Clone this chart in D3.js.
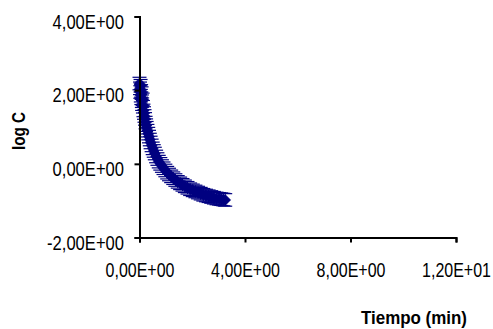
<!DOCTYPE html>
<html><head><meta charset="utf-8">
<script src="https://cdn.jsdelivr.net/npm/d3@7"></script>
<style>body{margin:0;background:#fff}svg{display:block}</style>
</head><body>
<svg id="c" width="493" height="329"></svg>
<script>
const tiempo = [0.00,0.02,0.03,0.04,0.05,0.06,0.07,0.08,0.09,0.10,0.12,0.13,0.15,0.17,0.19,0.21,0.23,0.25,0.27,0.30,0.33,0.36,0.39,0.42,0.46,0.50,0.54,0.58,0.63,0.68,0.73,0.79,0.85,0.91,0.98,1.05,1.12,1.20,1.28,1.36,1.45,1.54,1.63,1.72,1.82,1.92,2.02,2.12,2.22,2.32,2.42,2.52,2.62,2.72,2.82,2.92,3.02,3.10,3.18,3.25];
const logC = [2.18,2.05,1.95,2.12,1.85,1.98,1.78,1.92,1.70,1.62,1.75,1.55,1.45,1.38,1.30,1.22,1.12,1.05,0.98,0.90,0.82,0.74,0.66,0.58,0.50,0.42,0.35,0.28,0.20,0.13,0.06,0.00,-0.06,-0.12,-0.18,-0.24,-0.29,-0.34,-0.39,-0.44,-0.49,-0.53,-0.57,-0.61,-0.65,-0.69,-0.72,-0.75,-0.78,-0.81,-0.84,-0.86,-0.88,-0.90,-0.92,-0.94,-0.95,-0.96,-0.97,-0.98];
const errY = 0.17;
const xTicks = [0,4,8,12];
const yTicks = [-2,0,2,4];
const fmt = v => { if (v===0) return "0,00E+00"; const e=Math.floor(Math.log10(Math.abs(v))); const m=(v/Math.pow(10,e)).toFixed(2).replace(".",","); return m+"E"+(e<0?"-":"+")+String(Math.abs(e)).padStart(2,"0"); };

const svg = d3.select("#c");
const x = d3.scaleLinear().domain([0,12]).range([139.5,456]);
const y = d3.scaleLinear().domain([-2,4]).range([237.5,16.5]);
const font = "'Liberation Sans', Arial, sans-serif";
const col = "#000080";
const squeeze = (sel, k) => sel.each(function(){ const L=this.getComputedTextLength(); d3.select(this).attr("textLength",L*k).attr("lengthAdjust","spacingAndGlyphs"); });

const data = tiempo.map((t,i)=>({t, v:logC[i]}));
const g = svg.append("g");
const eb = g.selectAll("g.eb").data(data).join("g");
eb.append("line").attr("x1",d=>x(d.t)).attr("x2",d=>x(d.t)).attr("y1",d=>y(d.v-errY)).attr("y2",d=>y(d.v+errY)).attr("stroke",col).attr("stroke-width",1);
eb.append("line").attr("x1",d=>x(d.t)-7).attr("x2",d=>x(d.t)+7).attr("y1",d=>y(d.v+errY)).attr("y2",d=>y(d.v+errY)).attr("stroke",col).attr("stroke-width",1.2);
eb.append("line").attr("x1",d=>x(d.t)-7).attr("x2",d=>x(d.t)+7).attr("y1",d=>y(d.v-errY)).attr("y2",d=>y(d.v-errY)).attr("stroke",col).attr("stroke-width",1.2);
g.selectAll("path.m").data(data).join("path")
  .attr("d",d=>{const cx=x(d.t), cy=y(d.v), r=5.5; return `M${cx},${cy-r}L${cx+r},${cy}L${cx},${cy+r}L${cx-r},${cy}Z`;})
  .attr("fill",col).attr("stroke",col).attr("stroke-width",0.5);

const xa = svg.append("g").attr("transform",`translate(0,${y(-2)})`)
  .call(d3.axisBottom(x).tickValues(xTicks).tickSize(5).tickFormat(fmt));
const ya = svg.append("g").attr("transform",`translate(${x(0)},0)`)
  .call(d3.axisLeft(y).tickValues(yTicks).tickSize(5).tickFormat(fmt));
[xa,ya].forEach(a=>{
  a.select(".domain").attr("stroke","#000").attr("stroke-width",2);
  a.selectAll(".tick line").attr("stroke","#000").attr("stroke-width",2);
  a.selectAll("text").attr("font-family",font).attr("font-size",19.5).attr("fill","#000");
});
squeeze(ya.selectAll("text"), 0.85);
squeeze(xa.selectAll("text"), 0.82);
xa.selectAll("text").attr("dy",0).attr("y",39.5);
ya.selectAll("text").attr("x",-15.5).attr("dy",0).attr("y",11.5);

const t1 = svg.append("text").attr("transform","translate(25,131) rotate(-90)").attr("text-anchor","middle")
  .attr("font-family",font).attr("font-weight","bold").attr("font-size",19).text("log C");
const t2 = svg.append("text").attr("x",467).attr("y",324).attr("text-anchor","end")
  .attr("font-family",font).attr("font-weight","bold").attr("font-size",19).text("Tiempo (min)");
t1.attr("textLength",38).attr("lengthAdjust","spacingAndGlyphs");
t2.attr("textLength",106).attr("lengthAdjust","spacingAndGlyphs");
</script>
</body></html>
